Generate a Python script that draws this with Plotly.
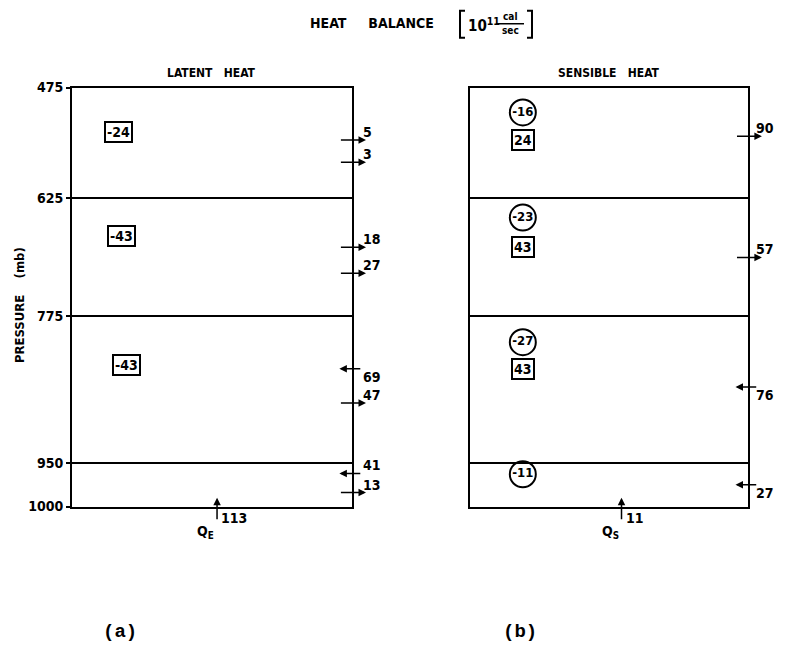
import numpy as np
import plotly.graph_objects as go
from plotly.subplots import make_subplots

# ---------------- data ----------------
levels = [475, 625, 775, 950, 1000]          # layer boundaries (mb)

# latent heat panel: storage terms (boxed)
latent_box_vals = [-24, -43, -43]
latent_box_p = [537, 675, 835]
# latent heat panel: lateral fluxes at right boundary
latent_flux_vals = [5, 3, 18, 27, 69, 47, 41, 13]
latent_flux_p = [548, 578, 689, 722, 839, 880, 962, 984]
latent_flux_dir = ["out", "out", "out", "out", "in", "out", "in", "out"]
latent_surface = 113

# sensible heat panel
sens_circle_vals = [-16, -23, -27, -11]
sens_circle_p = [510, 651, 807, 963]
sens_box_vals = [24, 43, 43]
sens_box_p = [548, 689, 839]
sens_flux_vals = [90, 57, 76, 27]
sens_flux_p = [543, 702, 861, 975]
sens_flux_dir = ["out", "out", "in", "in"]
sens_surface = 11

# label placement (style)
latent_label_side = ["up", "up", "up", "up", "down", "up", "up", "up"]
sens_label_side = ["up", "up", "down", "down"]

K = 1.3
def tr(p):
    return float(p) ** K

FONT = "Liberation Sans Narrow, DejaVu Sans Condensed, Arial Narrow, sans-serif"
W, H = 797, 656

# small vertical correction so that the photographed page lands on target pixels
def Y(py):
    return 328 + (py - 328) / 0.978

LX = [72, 352]
RX = [470, 748]
TOP, BOT = Y(87), Y(507)

fig = make_subplots(rows=1, cols=2)

dx1 = [LX[0] / W, LX[1] / W]
dx2 = [RX[0] / W, RX[1] / W]
dy = [1 - BOT / H, 1 - TOP / H]

yr = [tr(1000), tr(475)]
for i, dom in enumerate([dx1, dx2]):
    xa = "xaxis" if i == 0 else "xaxis2"
    ya = "yaxis" if i == 0 else "yaxis2"
    fig.layout[xa].update(domain=dom, range=[0, 1], showline=True, mirror=True,
                          linecolor="black", linewidth=2, showgrid=False,
                          zeroline=False, showticklabels=False, ticks="")
    fig.layout[ya].update(domain=dy, range=yr, showline=True, mirror=True,
                          linecolor="black", linewidth=2, showgrid=True,
                          gridcolor="black", gridwidth=2, zeroline=False,
                          tickmode="array", tickvals=[tr(p) for p in levels],
                          ticktext=[f"<b>{p}</b>" for p in levels],
                          showticklabels=(i == 0),
                          ticks="outside" if i == 0 else "",
                          ticklen=4, tickwidth=2, tickcolor="black",
                          tickfont=dict(family=FONT, size=14, color="black"))

ann = []

def px2paper_x(px):
    return px / W

def px2paper_y(py):
    return 1 - Y(py) / H

def add_flux(xref, yref, vals, ps, dirs, sides, panel, lab_off):
    x0, x1 = panel
    for v, p, d, s in zip(vals, ps, dirs, sides):
        y = tr(p)
        if d == "out":
            head, tail = 1.05, 0.955
        else:
            head, tail = 0.955, 1.035
        ann.append(dict(x=head, y=y, ax=tail, ay=y, xref=xref, yref=yref,
                        axref=xref, ayref=yref, text="", showarrow=True,
                        arrowhead=2, arrowsize=1, arrowwidth=1.5,
                        arrowcolor="black"))
        ann.append(dict(x=px2paper_x(x1 + lab_off), y=y, xref="paper", yref=yref,
                        text=f"<b>{v}</b>", showarrow=False, xanchor="left",
                        yanchor="bottom" if s == "up" else "top",
                        yshift=-2 if s == "up" else 2,
                        font=dict(family=FONT, size=14, color="black")))

add_flux("x", "y", latent_flux_vals, latent_flux_p, latent_flux_dir,
         latent_label_side, LX, 9)
add_flux("x2", "y2", sens_flux_vals, sens_flux_p, sens_flux_dir,
         sens_label_side, RX, 6)

# boxed storage values
for v, p, xx in zip(latent_box_vals, latent_box_p, [0.165, 0.175, 0.193]):
    ann.append(dict(x=xx, y=tr(p), xref="x", yref="y", text=f"<b>{v}</b>",
                    showarrow=False, bordercolor="black", borderwidth=2,
                    borderpad=1, font=dict(family=FONT, size=14, color="black")))
for v, p in zip(sens_box_vals, sens_box_p):
    ann.append(dict(x=0.19, y=tr(p), xref="x2", yref="y2", text=f"<b>{v}</b>",
                    showarrow=False, bordercolor="black", borderwidth=2,
                    borderpad=1, font=dict(family=FONT, size=14, color="black")))

# circled values
fig.add_trace(go.Scatter(x=[0.19] * len(sens_circle_vals),
                         y=[tr(p) for p in sens_circle_p],
                         mode="markers+text",
                         text=[f"<b>{v}</b>" for v in sens_circle_vals],
                         textposition="middle center",
                         textfont=dict(family=FONT, size=13, color="black"),
                         marker=dict(symbol="circle-open", size=26,
                                     color="black", line=dict(width=2)),
                         showlegend=False, hoverinfo="skip"), row=1, col=2)

# surface fluxes (upward arrows)
for xref, yref, v, xx, lab in [("x", "y", latent_surface, 0.518, "E"),
                               ("x2", "y2", sens_surface, 0.545, "S")]:
    ann.append(dict(x=xx, y=tr(990), ax=xx, ay=tr(1016), xref=xref, yref=yref,
                    axref=xref, ayref=yref, text="", showarrow=True,
                    arrowhead=2, arrowsize=1, arrowwidth=1.5, arrowcolor="black"))
    ann.append(dict(x=xx + 0.008, y=tr(1000), xref=xref, yref=yref,
                    text=f"<b>{v}</b>", showarrow=False, xanchor="left",
                    yanchor="top", yshift=-1,
                    font=dict(family=FONT, size=14, color="black")))
    ann.append(dict(x=xx - 0.04, y=tr(1000), xref=xref, yref=yref,
                    text=f"<b>Q<sub>{lab}</sub></b>", showarrow=False,
                    xanchor="center", yanchor="top", yshift=-14,
                    font=dict(family=FONT, size=14, color="black")))

def paper_text(x, y, text, size=12, family=FONT, xanchor="center", angle=0):
    ann.append(dict(x=px2paper_x(x), y=px2paper_y(y), xref="paper", yref="paper",
                    text=text, showarrow=False, xanchor=xanchor,
                    yanchor="middle", textangle=angle,
                    font=dict(family=family, size=size, color="black")))

# panel titles
paper_text(211, 72, "<b>LATENT   HEAT</b>")
paper_text(609, 72, "<b>SENSIBLE   HEAT</b>")

# main title
paper_text(436, 22, "<b>HEAT&nbsp;&nbsp;&nbsp;&nbsp;&nbsp;BALANCE</b>",
           size=14, xanchor="right")
paper_text(466, 24, "<b>10<sup>11</sup></b>", size=15, xanchor="left")
paper_text(510, 16, "<b>cal</b>", size=10)
paper_text(510, 30, "<b>sec</b>", size=10)

# y title
paper_text(19, 305, "<b>PRESSURE&nbsp;&nbsp;&nbsp;&nbsp;(mb)</b>", size=13, angle=-90)

# (a) (b)
MONO = "Liberation Mono, Courier New, monospace"
paper_text(120, 633, "<b>(a)</b>", size=19, family=MONO)
paper_text(520, 633, "<b>(b)</b>", size=19, family=MONO)

line = dict(color="black", width=2)
def py(v):
    return 1 - Y(v) / H
shapes = [
    # fraction bar
    dict(type="line", xref="paper", yref="paper", x0=496 / W, x1=524 / W,
         y0=py(23), y1=py(23), line=dict(color="black", width=1.5)),
    # left bracket
    dict(type="path", xref="paper", yref="paper",
         path=f"M {465 / W} {py(10)} L {460 / W} {py(10)} "
              f"L {460 / W} {py(37)} L {465 / W} {py(37)}", line=line),
    # right bracket
    dict(type="path", xref="paper", yref="paper",
         path=f"M {527 / W} {py(10)} L {532 / W} {py(10)} "
              f"L {532 / W} {py(37)} L {527 / W} {py(37)}", line=line),
]

fig.update_layout(width=W, height=H, margin=dict(l=0, r=0, t=0, b=0),
                  paper_bgcolor="white", plot_bgcolor="white",
                  annotations=ann, showlegend=False, shapes=shapes)

fig.write_html("out.html")
